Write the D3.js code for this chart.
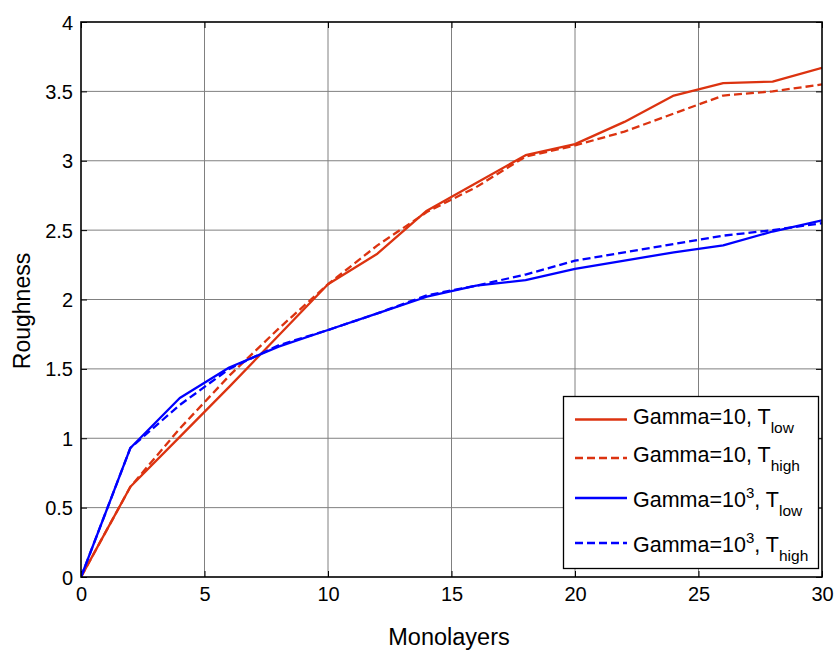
<!DOCTYPE html>
<html><head><meta charset="utf-8">
<script src="https://cdn.jsdelivr.net/npm/d3@7"></script>
<style>body{margin:0;background:#fff}svg text{font-family:"Liberation Sans",Arial,sans-serif;fill:#000}</style>
</head><body><svg id="c" width="838" height="651"></svg>
<script>
const monolayers = [0,2,4,6,8,10,12,14,16,18,20,22,24,26,28,30];
const g10Low   = [0,0.65,1.01,1.37,1.74,2.11,2.33,2.64,2.84,3.04,3.12,3.28,3.47,3.56,3.57,3.67];
const g10High  = [0,0.65,1.07,1.45,1.79,2.11,2.39,2.63,2.81,3.03,3.11,3.21,3.34,3.47,3.50,3.55];
const g1e3Low  = [0,0.93,1.29,1.51,1.66,1.78,1.90,2.02,2.10,2.14,2.22,2.28,2.34,2.39,2.49,2.57];
const g1e3High = [0,0.93,1.24,1.50,1.67,1.78,1.90,2.03,2.10,2.18,2.28,2.34,2.40,2.46,2.50,2.55];
const xTicks = [0,5,10,15,20,25,30];
const yTicks = [0,0.5,1,1.5,2,2.5,3,3.5,4];
const seriesNames = ["Gamma=10, T|low","Gamma=10, T|high","Gamma=10^3, T|low","Gamma=10^3, T|high"];

const svg = d3.select("#c");
const L=81,R=822,T=22,B=577;
const x = d3.scaleLinear().domain([0,30]).range([L,R]);
const y = d3.scaleLinear().domain([0,4]).range([B,T]);

// grid
svg.append("g").selectAll("line").data(xTicks.slice(1,-1)).join("line")
  .attr("x1",d=>x(d)).attr("x2",d=>x(d)).attr("y1",T).attr("y2",B)
  .attr("stroke","#808080").attr("stroke-width",1);
svg.append("g").selectAll("line").data(yTicks.slice(1,-1)).join("line")
  .attr("y1",d=>y(d)).attr("y2",d=>y(d)).attr("x1",L).attr("x2",R)
  .attr("stroke","#808080").attr("stroke-width",1);

// axes with inward ticks
const fs = "20px";
const ax = svg.append("g").attr("transform",`translate(0,${B})`)
  .call(d3.axisBottom(x).tickValues(xTicks).tickSizeInner(-6).tickSizeOuter(0).tickPadding(10).tickFormat(d3.format("d")));
const ay = svg.append("g").attr("transform",`translate(${L},0)`)
  .call(d3.axisLeft(y).tickValues(yTicks).tickSizeInner(-6).tickSizeOuter(0).tickPadding(8).tickFormat(d=>String(d)));
const axT = svg.append("g").attr("transform",`translate(0,${T})`)
  .call(d3.axisTop(x).tickValues(xTicks).tickSizeInner(-6).tickSizeOuter(0).tickFormat(""));
const ayR = svg.append("g").attr("transform",`translate(${R},0)`)
  .call(d3.axisRight(y).tickValues(yTicks).tickSizeInner(-6).tickSizeOuter(0).tickFormat(""));
[ax,ay,axT,ayR].forEach(a=>{a.select(".domain").remove();a.selectAll("line").attr("stroke","#000");a.selectAll("text").style("font-size",fs).style("font-family","Liberation Sans, Arial, sans-serif");});
ay.selectAll("text").attr("dy","0.35em");

// lines
const colors = ["#dc3310","#dc3310","#0000ff","#0000ff"];
const dashes = [null,"8,4",null,"8,4"];
const allSeries = [g10Low,g10High,g1e3Low,g1e3High];
const line = d3.line().x((d,i)=>x(monolayers[i])).y(d=>y(d));
svg.append("clipPath").attr("id","cp").append("rect").attr("x",L).attr("y",T).attr("width",R-L).attr("height",B-T);
allSeries.forEach((s,k)=>{
  svg.append("path").datum(s).attr("d",line).attr("fill","none")
    .attr("stroke",colors[k]).attr("stroke-width",2.3).attr("stroke-dasharray",dashes[k])
    .attr("stroke-linejoin","round").attr("clip-path","url(#cp)");
});

// box
svg.append("rect").attr("x",L).attr("y",T).attr("width",R-L).attr("height",B-T)
  .attr("fill","none").attr("stroke","#000").attr("stroke-width",1.6);

// axis titles
svg.append("text").attr("x",449).attr("y",645).attr("text-anchor","middle").style("font-size","23.5px").text("Monolayers");
svg.append("text").attr("transform","translate(30,311) rotate(-90)").attr("text-anchor","middle").style("font-size","23px").text("Roughness");

// legend
const lg = svg.append("g");
lg.append("rect").attr("x",563.5).attr("y",396.5).attr("width",255).attr("height",172)
  .attr("fill","#fff").attr("stroke","#000").attr("stroke-width",1.3);
const rowsY = [419.5,458,498,543];
const baseY = [424,462,507,552];
seriesNames.forEach((nm,k)=>{
  lg.append("line").attr("x1",575).attr("x2",627).attr("y1",rowsY[k]).attr("y2",rowsY[k])
    .attr("stroke",colors[k]).attr("stroke-width",2.3).attr("stroke-dasharray",dashes[k]);
  const [main,sub] = nm.split("|");
  const t = lg.append("text").attr("x",633).attr("y",baseY[k]).style("font-size","21.5px");
  if(main.includes("^")){
    const [a,b] = main.split("^");
    const bparts = b.split(",");
    t.append("tspan").text(a);
    t.append("tspan").attr("dy",-9).style("font-size","15px").text(bparts[0]);
    t.append("tspan").attr("dy",9).text(","+bparts.slice(1).join(","));
  } else {
    t.append("tspan").text(main);
  }
  t.append("tspan").attr("dy",9).style("font-size","15.5px").text(sub);
});
</script></body></html>
